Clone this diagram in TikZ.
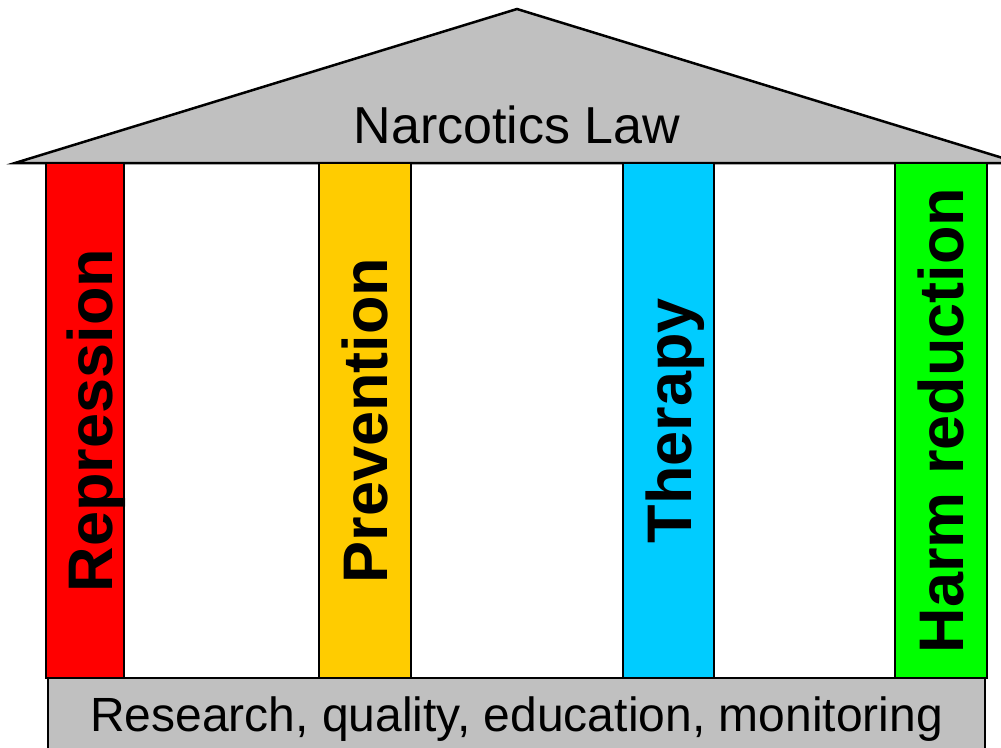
\documentclass[tikz,border=0pt]{standalone}
\usepackage{fontspec}
\setmainfont{Liberation Sans}
\usepackage{tikz}

\begin{document}
\begin{tikzpicture}[x=1pt,y=-1pt,
	pillar/.style={shape=rectangle,draw=black,line width=1.5pt,rotate=90,inner sep=0pt,
		minimum width=515pt,text height=45pt,text depth=0pt,
		font=\fontsize{63}{63}\selectfont\bfseries},
	slab/.style={fill={rgb,255:red,192;green,192;blue,192},draw=black}]
	\useasboundingbox (0,0) rectangle (1001,747);
	\draw[slab,line width=2.5pt,line join=miter] (15,163) -- (517,9) -- (1019,163) -- cycle;
	\node[anchor=base,font=\fontsize{52}{52}\selectfont] (law) at (517,143) {Narcotics Law};
	\node[pillar,minimum height=78pt,text height=54pt,fill=red] (repr) at (85,420.5) {Repression};
	\node[pillar,minimum height=92pt,fill={rgb,255:red,255;green,204;blue,0}] (prev) at (365,420.5) {Prevention};
	\node[pillar,minimum height=91pt,fill={rgb,255:red,0;green,204;blue,255}] (ther) at (668.5,420.5) {Therapy};
	\node[pillar,minimum height=92pt,fill={rgb,255:red,0;green,255;blue,0}] (harm) at (941,420.5) {Harm reduction};
	\draw[slab,line width=1.5pt] (48,678) rectangle (985,770);
	\node[anchor=base,font=\fontsize{48}{48}\selectfont] (base) at (516.5,731) {Research, quality, education, monitoring};
\end{tikzpicture}
\end{document}
